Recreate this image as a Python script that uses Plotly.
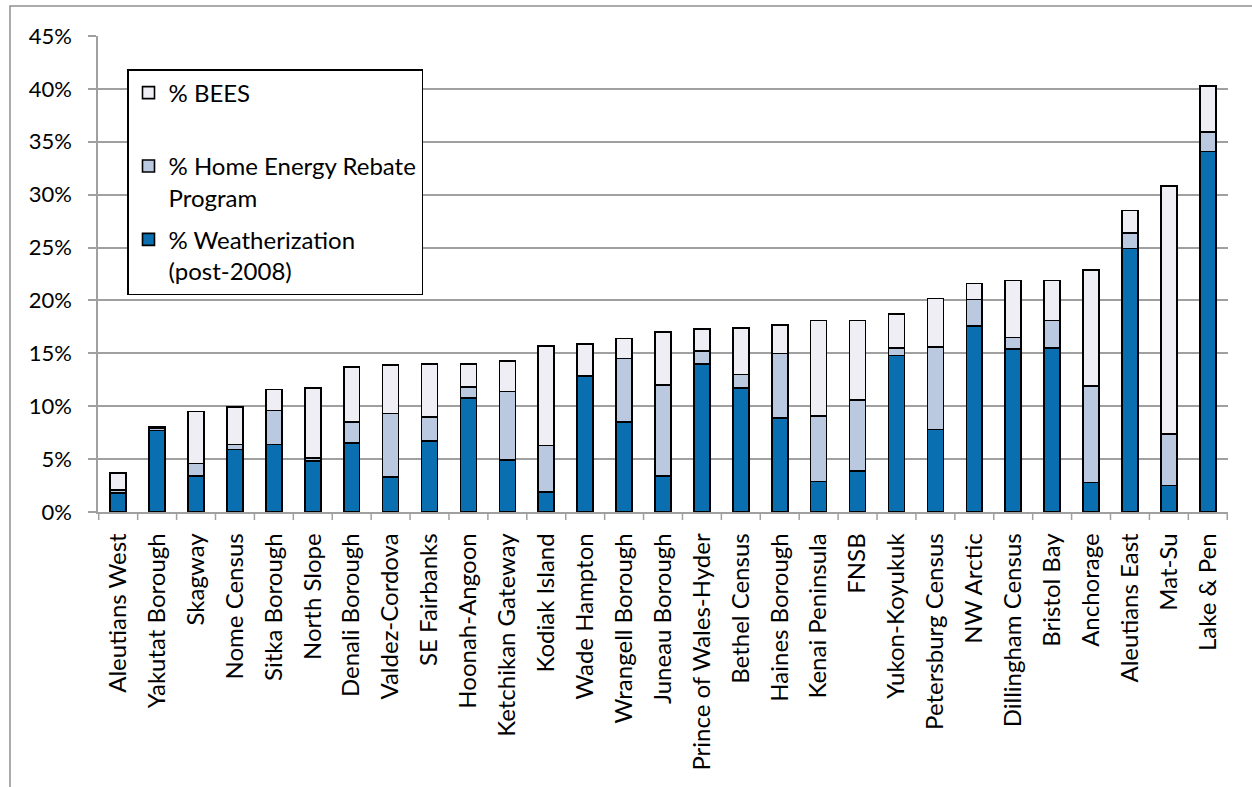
import plotly.graph_objects as go

categories = ["Aleutians West", "Yakutat Borough", "Skagway", "Nome Census", "Sitka Borough",
              "North Slope", "Denali Borough", "Valdez-Cordova", "SE Fairbanks", "Hoonah-Angoon",
              "Ketchikan Gateway", "Kodiak Island", "Wade Hampton", "Wrangell Borough", "Juneau Borough",
              "Prince of Wales-Hyder", "Bethel Census", "Haines Borough", "Kenai Peninsula", "FNSB",
              "Yukon-Koyukuk", "Petersburg Census", "NW Arctic", "Dillingham Census", "Bristol Bay",
              "Anchorage", "Aleutians East", "Mat-Su", "Lake & Pen"]

weatherization = [1.8, 7.7, 3.4, 5.9, 6.4, 4.8, 6.5, 3.3, 6.7, 10.8,
                  4.9, 1.9, 12.8, 8.5, 3.4, 14.0, 11.7, 8.9, 2.9, 3.9,
                  14.8, 7.8, 17.6, 15.4, 15.5, 2.8, 24.9, 2.5, 34.1]
home_energy_rebate = [0.3, 0.25, 1.2, 0.5, 3.2, 0.3, 2.0, 6.0, 2.3, 1.0,
                      6.5, 4.4, 0.1, 6.0, 8.6, 1.2, 1.3, 6.1, 6.2, 6.7,
                      0.7, 7.8, 2.5, 1.1, 2.6, 9.1, 1.5, 4.9, 1.8]
bees = [1.6, 0.15, 4.9, 3.5, 2.0, 6.6, 5.2, 4.6, 5.0, 2.2,
        2.9, 9.4, 3.0, 1.9, 5.0, 2.1, 4.4, 2.7, 9.0, 7.5,
        3.2, 4.6, 1.5, 5.4, 3.8, 11.0, 2.1, 23.4, 4.4]

y_ticks = [0, 5, 10, 15, 20, 25, 30, 35, 40, 45]
y_tick_labels = [f"{v}%" for v in y_ticks]

FONT = "Lato, 'Open Sans', sans-serif"
FS = 24
W, H = 1252, 787
L, R, T, B = 98, 24, 36, 275
pw, ph = W - L - R, H - T - B

fig = go.Figure()
series = [
    ("% Weatherization<br>(post-2008)", weatherization, "#0a6fb0", 3),
    ("% Home Energy Rebate<br>Program", home_energy_rebate, "#bac8e0", 2),
    ("% BEES<br> ", bees, "#f0eef5", 1),
]
for i, (name, vals, col, rank) in enumerate(series):
    fig.add_trace(go.Bar(
        x=categories, y=vals, name=name, legendgroup=f"g{i}", legendrank=rank,
        marker=dict(color=col, line=dict(color="black", width=1.6)),
    ))

fig.update_layout(
    width=W, height=H,
    margin=dict(l=L, r=R, t=T, b=B, pad=0),
    barmode="stack", bargap=0.59,
    plot_bgcolor="white", paper_bgcolor="white",
    font=dict(family=FONT, size=FS, color="black"),
    showlegend=True,
    legend=dict(
        x=(127 - L) / pw, y=1 - (69 - T) / ph, xanchor="left", yanchor="top",
        traceorder="grouped", tracegroupgap=8,
        bordercolor="black", borderwidth=1.5, bgcolor="white",
        font=dict(family=FONT, size=FS, color="black"),
        valign="top", itemwidth=30,
    ),
    xaxis=dict(
        tickangle=-90, showgrid=False, showline=True, linecolor="#a0a0a0", linewidth=1.5,
        ticks="", tickfont=dict(size=FS), automargin=False, ticklabelstandoff=10,
    ),
    yaxis=dict(
        range=[0, 45], tickvals=y_ticks, ticktext=y_tick_labels,
        showgrid=True, gridcolor="#a0a0a0", gridwidth=1.5,
        showline=True, linecolor="#a0a0a0", linewidth=1.5,
        ticks="outside", ticklen=8, tickcolor="#a0a0a0", tickwidth=1.5,
        zeroline=False, tickfont=dict(size=22), automargin=False, ticklabelstandoff=12,
    ),
)

# category boundary tick marks below the x axis
shapes = []
n = len(categories)
for k in range(n + 1):
    xv = k - 0.5
    shapes.append(dict(type="line", xref="x", yref="paper", x0=xv, x1=xv, y0=0, y1=-8 / ph,
                       line=dict(color="#a0a0a0", width=1.5)))
# outer chart border (left and top visible)
shapes.append(dict(type="rect", xref="paper", yref="paper",
                   x0=(10 - L) / pw, x1=(W + 20 - L) / pw,
                   y0=-(H + 20 - T - ph) / ph, y1=1 + (T - 6) / ph,
                   line=dict(color="#909090", width=1.5), layer="below"))
fig.update_layout(shapes=shapes)

fig.write_html("out.html", config={"displayModeBar": False},
               post_script="document.body.style.margin='0';document.body.style.overflow='hidden';")
